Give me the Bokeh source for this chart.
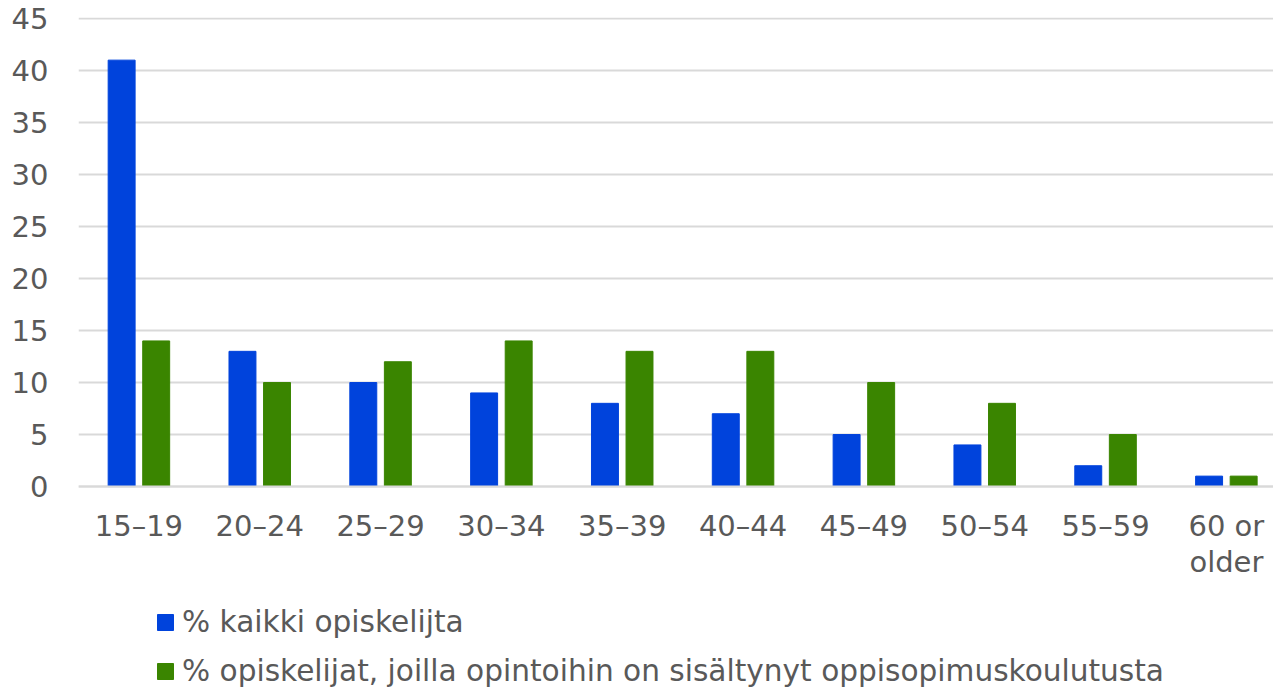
from bokeh.plotting import figure
from bokeh.models import ColumnDataSource, Legend, LegendItem, FixedTicker, Label
from bokeh.transform import dodge
from bokeh.embed import file_html
from bokeh.resources import INLINE

categories = ["15\u201319", "20\u201324", "25\u201329", "30\u201334", "35\u201339",
              "40\u201344", "45\u201349", "50\u201354", "55\u201359", "60 or\nolder"]
all_students = [41, 13, 10, 9, 8, 7, 5, 4, 2, 1]
apprentice_students = [14, 10, 12, 14, 13, 13, 10, 8, 5, 1]
series_names = ["% kaikki opiskelijta",
                "% opiskelijat, joilla opintoihin on sis\u00e4ltynyt oppisopimuskoulutusta"]
y_ticks = [0, 5, 10, 15, 20, 25, 30, 35, 40, 45]

xpos = list(range(len(categories)))
src = ColumnDataSource(dict(x=xpos, a=all_students, b=apprentice_students))

FONT = "DejaVu Sans"
TXT = "#595959"
FS = "29px"

p = figure(x_range=(-0.5, 9.39), y_range=(-19.42, 45.1),
           frame_width=1195, frame_height=671,
           min_border_left=78, min_border_top=17, min_border_right=0, min_border_bottom=0,
           output_backend="svg", toolbar_location=None)

r1 = p.vbar(x=dodge("x", -0.143), top="a", width=0.223, source=src,
            fill_color="#0043DC", line_color="#0043DC")
r2 = p.vbar(x=dodge("x", 0.143), top="b", width=0.223, source=src,
            fill_color="#3A8500", line_color="#3A8500")

yt = FixedTicker(ticks=y_ticks)
p.outline_line_color = None
p.xgrid.grid_line_color = None
p.ygrid.ticker = yt
p.ygrid.grid_line_color = "#D9D9D9"
p.ygrid.grid_line_width = 2
p.yaxis.ticker = yt
p.yaxis.axis_line_color = None
p.yaxis.major_tick_line_color = None
p.yaxis.minor_tick_line_color = None
p.xaxis.ticker = FixedTicker(ticks=xpos)
p.xaxis.fixed_location = 0
p.xaxis.axis_line_color = "#D9D9D9"
p.xaxis.axis_line_width = 2
p.xaxis.major_tick_line_color = None
p.xaxis.minor_tick_line_color = None
for ax in (p.xaxis, p.yaxis):
    ax.major_label_text_font = FONT
    ax.major_label_text_font_size = FS
    ax.major_label_text_color = TXT
p.yaxis.major_label_standoff = 24
p.xaxis.major_label_standoff = 16

# first line of each category label on the axis, second line (if any) as a label below it
p.xaxis.major_label_overrides = {i: c.split("\n")[0] for i, c in enumerate(categories)}
for i, c in enumerate(categories):
    parts = c.split("\n")
    if len(parts) > 1:
        p.add_layout(Label(x=i, y=-7.3, text=parts[1], text_align="center",
                           text_baseline="middle", text_font=FONT, text_font_size=FS,
                           text_color=TXT))

legend = Legend(items=[LegendItem(label=series_names[0], renderers=[r1]),
                       LegendItem(label=series_names[1], renderers=[r2])],
                orientation="vertical", location=(77, 0),
                label_text_font=FONT, label_text_font_size="29.6px", label_text_color=TXT,
                glyph_width=20, glyph_height=20, spacing=15, padding=0, margin=0,
                border_line_color=None, background_fill_alpha=0, label_standoff=7)
p.add_layout(legend)

open("out.html", "w").write(file_html(p, INLINE))
